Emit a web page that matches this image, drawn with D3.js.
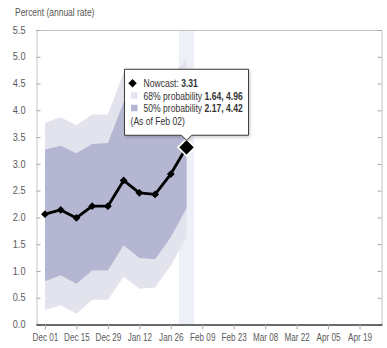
<!DOCTYPE html>
<html>
<head>
<meta charset="utf-8">
<script src="https://cdn.jsdelivr.net/npm/d3@7"></script>
<style>
  body { margin: 0; background: #fff; }
  svg { display: block; font-family: "Liberation Sans", Arial, sans-serif; }
  /* squeeze Arial-metric text into a narrow face */
  svg text { transform-box: fill-box; transform-origin: left center; }
  .title { transform: scaleX(0.77); }
  .x-axis text { transform: scaleX(0.74); transform-origin: center center; font-size: 11px; }
  .y-axis text { transform: scaleX(0.92); transform-origin: right center; font-size: 10px; }
  .axis text { fill: #5a5a5a; }
  .axis line { stroke: #a9a9a9; }
  .y-axis path { stroke: #c4c4c8; }
  .x-axis path { stroke: #3a3a3a; stroke-width: 1.5; }
  .frame { stroke: #c4c4c8; fill: none; }
  .tip text { font-size: 11px; fill: #333; transform: scaleX(0.78); }
</style>
</head>
<body>
<svg id="chart" width="387" height="348"></svg>
<script>
// weekly nowcast readings
const dates = ["2023-12-01", "2023-12-08", "2023-12-15", "2023-12-22", "2023-12-29",
               "2024-01-05", "2024-01-12", "2024-01-19", "2024-01-26", "2024-02-02"];
const nowcast = [2.06, 2.14, 1.99, 2.21, 2.21, 2.69, 2.46, 2.43, 2.81, 3.31];
const band68Low  = [0.27, 0.36, 0.20, 0.46, 0.46, 0.89, 0.67, 0.69, 1.10, 1.64];
const band68High = [3.77, 3.87, 3.72, 3.92, 3.92, 4.70, 4.45, 4.45, 4.63, 4.96];
const band50Low  = [0.81, 0.92, 0.76, 1.01, 1.01, 1.48, 1.24, 1.22, 1.63, 2.17];
const band50High = [3.27, 3.34, 3.20, 3.37, 3.39, 4.15, 3.90, 3.90, 4.10, 4.42];

const xTicks = ["2023-12-01", "2023-12-15", "2023-12-29", "2024-01-12", "2024-01-26",
                "2024-02-09", "2024-02-23", "2024-03-08", "2024-03-22", "2024-04-05", "2024-04-19"];
const yTicks = [0, 0.5, 1, 1.5, 2, 2.5, 3, 3.5, 4, 4.5, 5, 5.5];

const parse = d3.timeParse("%Y-%m-%d");
const fmtDay = d3.timeFormat("%b %d");

const svg = d3.select("#chart");
const plotL = 36, plotR = 382, plotT = 30, plotB = 324.5;

const x = d3.scaleTime()
    .domain([parse("2023-11-27"), parse("2024-04-29")])
    .range([plotL, plotR]);
const y = d3.scaleLinear().domain([0, 5.5]).range([plotB, plotT]);

const rows = dates.map((d, i) => ({
    date: parse(d), v: nowcast[i],
    lo68: band68Low[i], hi68: band68High[i],
    lo50: band50Low[i], hi50: band50High[i]
}));
const last = rows[rows.length - 1];

// highlighted week column
const day = 864e5;
const colL = x(new Date(+last.date - 3.4 * day)), colR = x(new Date(+last.date + 3.4 * day));
svg.append("rect")
    .attr("x", colL).attr("y", plotT)
    .attr("width", colR - colL).attr("height", plotB - plotT)
    .attr("fill", "#eef0f7");

// probability bands
const area68 = d3.area().x(d => x(d.date)).y0(d => y(d.lo68)).y1(d => y(d.hi68));
const area50 = d3.area().x(d => x(d.date)).y0(d => y(d.lo50)).y1(d => y(d.hi50));
svg.append("path").datum(rows).attr("d", area68).attr("fill", "#e3e3ee");
svg.append("path").datum(rows).attr("d", area50).attr("fill", "#b5b6d1");

// frame: top and right
svg.append("line").attr("class", "frame")
    .attr("x1", plotL).attr("x2", plotR).attr("y1", plotT + 0.5).attr("y2", plotT + 0.5);
svg.append("g").attr("class", "axis y-axis")
    .attr("transform", `translate(${plotR - 0.5},0)`)
    .call(d3.axisRight(y).tickValues(yTicks).tickSize(-4).tickSizeOuter(0).tickFormat(""));

// axes
svg.append("g").attr("class", "axis y-axis")
    .attr("transform", `translate(${plotL + 0.5},0)`)
    .call(d3.axisLeft(y).tickValues(yTicks).tickSize(-4).tickSizeOuter(0)
        .tickPadding(11).tickFormat(d3.format(".1f")));

svg.append("g").attr("class", "axis x-axis")
    .attr("transform", `translate(0,${plotB})`)
    .call(d3.axisBottom(x).tickValues(xTicks.map(parse)).tickSize(5).tickSizeOuter(0)
        .tickPadding(4).tickFormat(fmtDay));

svg.append("text").attr("class", "title")
    .attr("x", 15).attr("y", 16)
    .attr("fill", "#555").attr("font-size", 11)
    .text("Percent (annual rate)");

// nowcast line with diamond markers
const diamond = r => `M0,${-r}L${r},0L0,${r}L${-r},0Z`;
svg.append("path").datum(rows)
    .attr("d", d3.line().x(d => x(d.date)).y(d => y(d.v)))
    .attr("fill", "none").attr("stroke", "#000").attr("stroke-width", 2.8)
    .attr("stroke-linejoin", "round");

svg.selectAll(".pt").data(rows.slice(0, -1)).join("path")
    .attr("class", "pt")
    .attr("transform", d => `translate(${x(d.date)},${y(d.v)})`)
    .attr("d", diamond(3.9)).attr("fill", "#000");

svg.append("path")
    .attr("transform", `translate(${x(last.date)},${y(last.v)})`)
    .attr("d", diamond(8.5)).attr("fill", "#000")
    .attr("stroke", "#fff").attr("stroke-width", 1.8);

// tooltip for the latest reading
const px = x(last.date), py = y(last.v);
const bw = 124, bh = 66, bx = px - bw / 2, by = py - 12 - bh;

const defs = svg.append("defs");
const f = defs.append("filter").attr("id", "shadow").attr("x", "-10%").attr("y", "-10%")
    .attr("width", "130%").attr("height", "140%");
f.append("feDropShadow").attr("dx", 1).attr("dy", 1.5).attr("stdDeviation", 1.5)
    .attr("flood-color", "#000").attr("flood-opacity", 0.2);

const tip = svg.append("g").attr("class", "tip");
tip.append("path")
    .attr("d", `M${bx},${by}H${bx + bw}V${by + bh}H${px + 5}L${px},${by + bh + 5}L${px - 5},${by + bh}H${bx}Z`)
    .attr("fill", "#fff").attr("stroke", "#3a3a3a").attr("stroke-width", 1)
    .attr("filter", "url(#shadow)");

const tx = bx + 19;
tip.append("path").attr("transform", `translate(${bx + 8},${by + 14})`)
    .attr("d", diamond(4.2)).attr("fill", "#000");

const line1 = tip.append("text").attr("x", tx).attr("y", by + 18);
line1.append("tspan").text("Nowcast: ");
line1.append("tspan").attr("font-weight", "bold").text(d3.format(".2f")(last.v));

const bandRows = [
    { label: "68% probability ", lo: last.lo68, hi: last.hi68, color: "#e3e3ee" },
    { label: "50% probability ", lo: last.lo50, hi: last.hi50, color: "#b5b6d1" }
];
bandRows.forEach((b, i) => {
    const ly = by + 30.5 + i * 12.5;
    tip.append("rect").attr("x", bx + 6.5).attr("y", ly - 7.5)
        .attr("width", 6.5).attr("height", 6.5).attr("fill", b.color);
    const t = tip.append("text").attr("x", tx).attr("y", ly);
    t.append("tspan").text(b.label);
    t.append("tspan").attr("font-weight", "bold")
        .text(`${d3.format(".2f")(b.lo)}, ${d3.format(".2f")(b.hi)}`);
});

tip.append("text").attr("x", bx + 6).attr("y", by + 55.5)
    .text(`(As of ${fmtDay(last.date)})`);
</script>
</body>
</html>
